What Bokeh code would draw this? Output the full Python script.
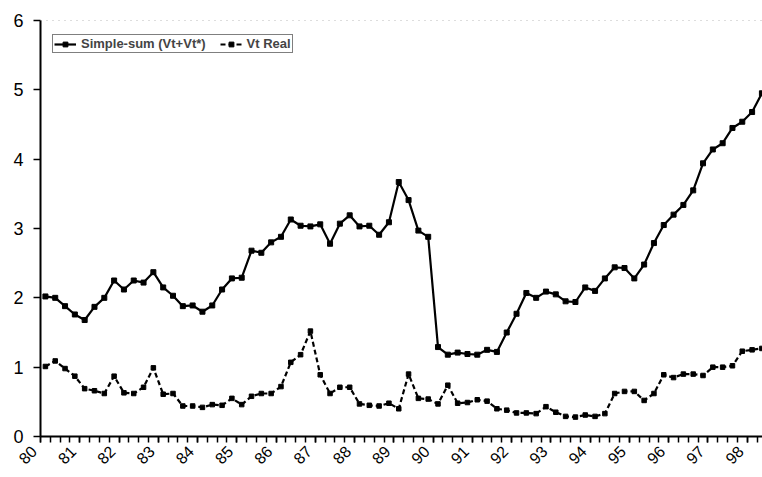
from bokeh.plotting import figure
from bokeh.models import (ColumnDataSource, FixedTicker, Span, Legend, LegendItem, Range1d)
from bokeh.embed import file_html
from bokeh.resources import INLINE

# ---- data (quarterly, 1980Q1 .. 1998Q2) ----
start_year = 1980
n_quarters = 74
year_ticks = list(range(1980, 1999))
year_labels = ["80", "81", "82", "83", "84", "85", "86", "87", "88", "89",
               "90", "91", "92", "93", "94", "95", "96", "97", "98"]

simple_sum = [2.02, 2.00, 1.88, 1.76, 1.68, 1.87, 2.00, 2.25, 2.12, 2.25,
              2.22, 2.37, 2.15, 2.03, 1.88, 1.89, 1.80, 1.89, 2.12, 2.28,
              2.29, 2.68, 2.65, 2.80, 2.88,
              3.13, 3.04, 3.03, 3.06, 2.78, 3.07, 3.19, 3.03, 3.04, 2.91,
              3.09, 3.67, 3.41, 2.97, 2.88,
              1.29, 1.18, 1.21, 1.19, 1.18, 1.25, 1.22, 1.50, 1.77, 2.07,
              2.00, 2.09, 2.05, 1.95, 1.94, 2.15, 2.10, 2.28, 2.44, 2.43,
              2.28, 2.48, 2.79, 3.05, 3.20, 3.34, 3.55, 3.94, 4.14, 4.23,
              4.45, 4.54, 4.68, 4.95]

vt_real = [1.01, 1.09, 0.98, 0.87, 0.69, 0.66, 0.62, 0.87, 0.63, 0.62,
           0.71, 0.99, 0.61, 0.62, 0.44, 0.44, 0.42, 0.46, 0.45, 0.55,
           0.46, 0.58, 0.62, 0.62, 0.72,
           1.07, 1.18, 1.52, 0.89, 0.62, 0.71, 0.71, 0.47, 0.45, 0.44,
           0.48, 0.40, 0.90, 0.55, 0.54, 0.47, 0.74, 0.48, 0.49, 0.53,
           0.51, 0.40,
           0.38, 0.34, 0.34, 0.33, 0.43, 0.35, 0.29, 0.28, 0.31, 0.29,
           0.33, 0.62, 0.65, 0.65, 0.52, 0.62, 0.89, 0.85, 0.90, 0.90,
           0.88, 1.00, 1.00, 1.02, 1.23, 1.25, 1.27]

# quarter mid-points
xq = [start_year + (i + 0.5) / 4 for i in range(n_quarters)]
src = ColumnDataSource(dict(x=xq, ss=simple_sum, vt=vt_real))

p = figure(width=762, height=477, output_backend="svg", toolbar_location=None,
           x_range=Range1d(1980, 1998.39), y_range=Range1d(0, 6),
           min_border_left=40, min_border_right=0, min_border_top=20,
           min_border_bottom=41)
p.outline_line_color = None
p.grid.visible = False
p.background_fill_color = "white"

FONT = "Liberation Sans"

# top dotted line
p.add_layout(Span(location=6, dimension="width", line_color="#777777",
                  line_width=1, line_dash="1 5"))

r1 = p.line("x", "ss", source=src, line_color="black", line_width=2.2)
r1m = p.scatter("x", "ss", source=src, marker="square", size=5,
                fill_color="black", line_color="black")
r2 = p.line("x", "vt", source=src, line_color="black", line_width=2.2,
            line_dash="5 3")
r2m = p.scatter("x", "vt", source=src, marker="square", size=4.5,
                fill_color="black", line_color="black")

# axes
xa = p.xaxis[0]
xa.ticker = FixedTicker(ticks=year_ticks,
                        minor_ticks=[start_year + q / 4 for q in range(0, 4 * 19 + 2)])
# trailing no-break spaces slide the rotated labels down-left of their tick
xa.major_label_overrides = {y: l + "\u00a0\u00a0" for y, l in zip(year_ticks, year_labels)}
xa.major_label_orientation = 0.785398
xa.major_label_text_font = FONT
xa.major_label_text_font_size = "16px"
xa.major_label_text_color = "black"
xa.major_label_standoff = 0
xa.axis_line_width = 2
xa.axis_line_color = "black"
xa.major_tick_out = 6
xa.major_tick_in = 0
xa.minor_tick_out = 6
xa.minor_tick_in = 0
xa.major_tick_line_width = 1.5
xa.minor_tick_line_width = 1.5
xa.major_tick_line_color = "black"
xa.minor_tick_line_color = "black"

ya = p.yaxis[0]
ya.ticker = FixedTicker(ticks=[0, 1, 2, 3, 4, 5, 6])
ya.major_label_text_font = FONT
ya.major_label_text_font_size = "18px"
ya.major_label_text_color = "black"
ya.major_label_standoff = 10
ya.axis_line_width = 2
ya.axis_line_color = "black"
ya.major_tick_out = 7
ya.major_tick_in = 0
ya.minor_tick_line_color = None
ya.major_tick_line_width = 1.5
ya.major_tick_line_color = "black"

legend = Legend(items=[LegendItem(label="Simple-sum (Vt+Vt*)", renderers=[r1, r1m]),
                       LegendItem(label="Vt Real", renderers=[r2, r2m])],
                orientation="horizontal", location=(12, 383), margin=0,
                padding=1, spacing=14, label_standoff=5,
                glyph_width=22, glyph_height=12, label_height=12,
                label_text_font=FONT, label_text_font_size="13px",
                label_text_font_style="bold",
                border_line_color="black", border_line_width=1.5,
                background_fill_alpha=1)
p.add_layout(legend)

open("out.html", "w").write(file_html(p, INLINE))
